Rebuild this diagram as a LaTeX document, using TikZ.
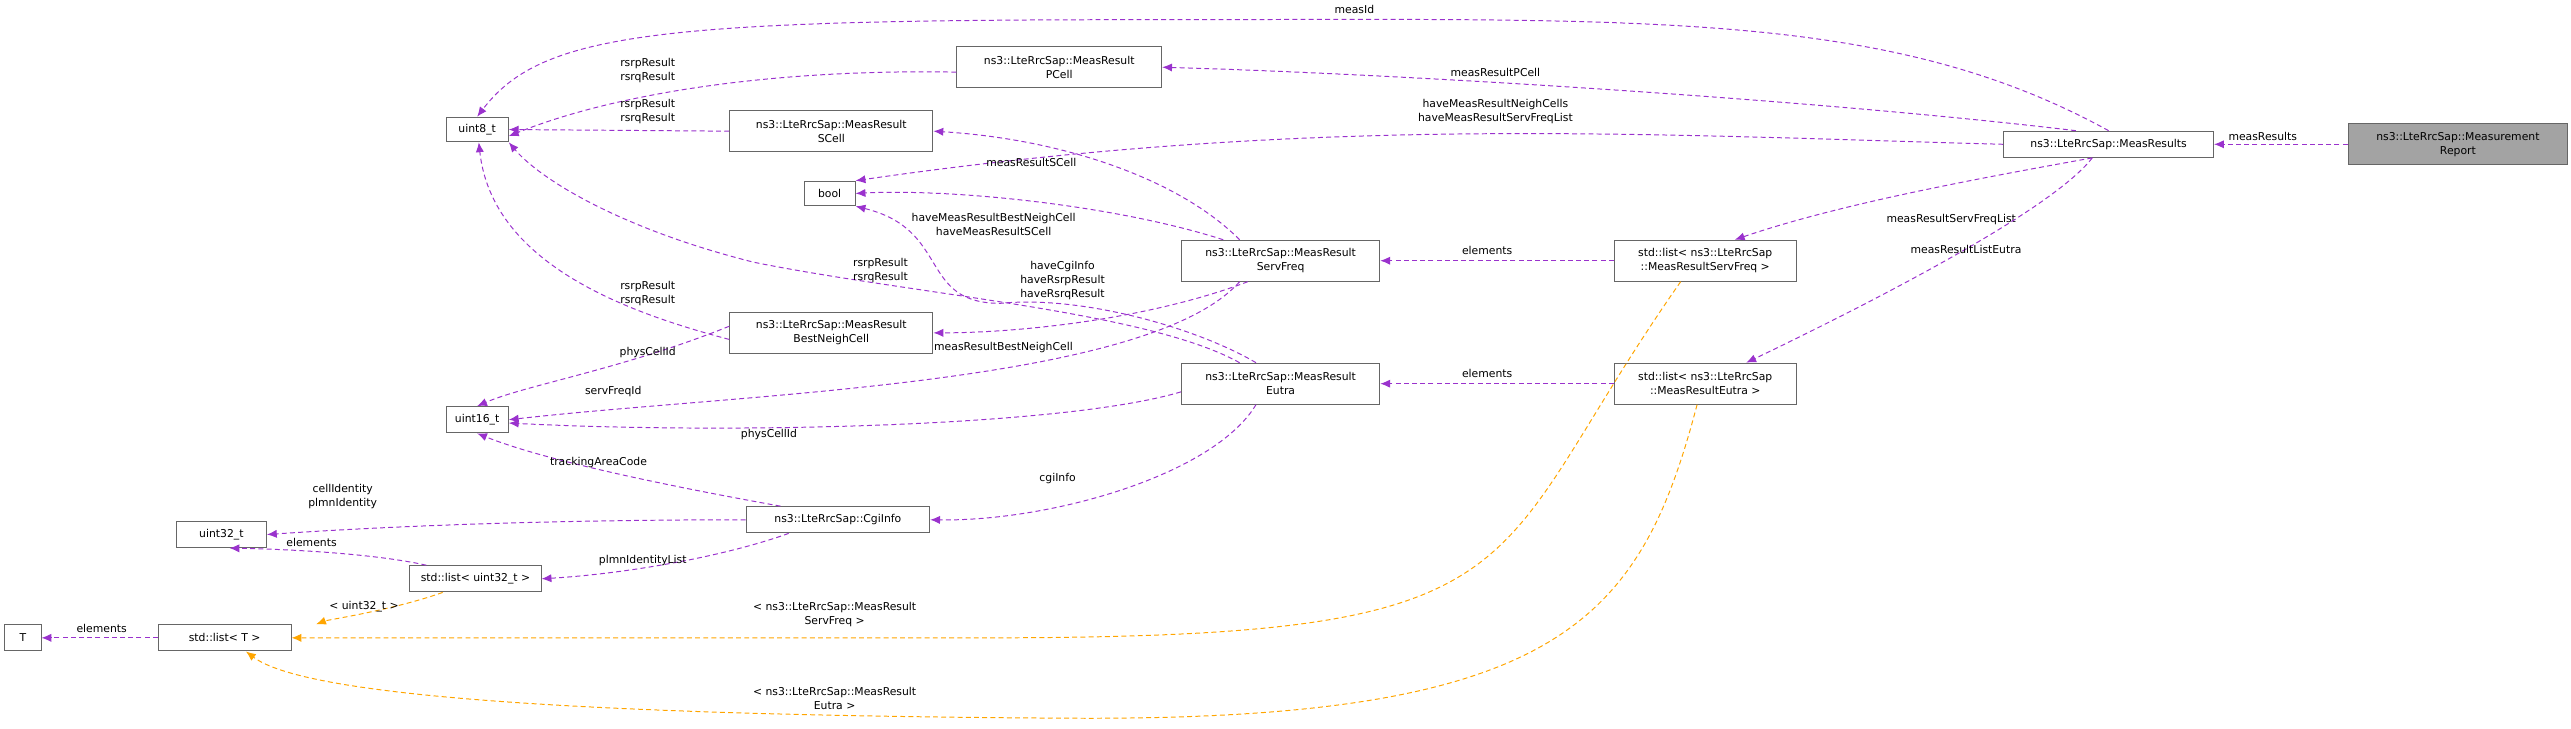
\documentclass[tikz,border=0pt]{standalone}
\usepackage{fontspec}
\setmainfont{DejaVu Sans}
\usetikzlibrary{arrows.meta,positioning}
\definecolor{usecol}{HTML}{9A32CD}
\definecolor{tplcol}{HTML}{FFA500}
\definecolor{boxcol}{HTML}{666666}

\begin{document}
\begin{tikzpicture}[x=1pt,y=-1pt,
    cls/.style={rectangle, draw=boxcol, line width=0.6pt, fill=white, inner sep=1.5pt, align=center, font=\fontsize{6.6}{8.5}\selectfont},
    rel/.style={draw=usecol, dashed, dash pattern=on 3pt off 2pt, line width=0.6pt, -{Latex[length=6pt,width=5pt]}},
    tpl/.style={rel, draw=tplcol},
    lbl/.style={align=center, font=\fontsize{6.6}{8.5}\selectfont, inner sep=0pt}
]
\useasboundingbox (0,0) rectangle (1568,444);

% classes
\node[cls, fill=boxcol!60, minimum width=134pt, minimum height=25pt] (report) at (1499,88) {ns3::LteRrcSap::Measurement\\Report};
\node[cls, minimum width=128pt, minimum height=16pt] (results) at (1286,88) {ns3::LteRrcSap::MeasResults};
\node[cls, minimum width=125pt, minimum height=25pt] (pcell) at (646,41) {ns3::LteRrcSap::MeasResult\\PCell};
\node[cls, minimum width=124pt, minimum height=25pt] (scell) at (507,80) {ns3::LteRrcSap::MeasResult\\SCell};
\node[cls, minimum width=38pt, minimum height=15pt] (u8) at (291,79) {uint8\_t};
\node[cls, minimum width=31pt, minimum height=15pt] (bool) at (506,118) {bool};
\node[cls, minimum width=124pt, minimum height=25pt] (best) at (507,203) {ns3::LteRrcSap::MeasResult\\BestNeighCell};
\node[cls, minimum width=121pt, minimum height=25pt] (servfreq) at (781,159) {ns3::LteRrcSap::MeasResult\\ServFreq};
\node[cls, minimum width=111pt, minimum height=25pt] (listsf) at (1040,159) {std::list< ns3::LteRrcSap\\::MeasResultServFreq >};
\node[cls, minimum width=38pt, minimum height=16pt] (u16) at (291,256) {uint16\_t};
\node[cls, minimum width=121pt, minimum height=25pt] (eutra) at (781,234) {ns3::LteRrcSap::MeasResult\\Eutra};
\node[cls, minimum width=111pt, minimum height=25pt] (listeu) at (1040,234) {std::list< ns3::LteRrcSap\\::MeasResultEutra >};
\node[cls, minimum width=112pt, minimum height=16pt] (cgi) at (511,317) {ns3::LteRrcSap::CgiInfo};
\node[cls, minimum width=55pt, minimum height=16pt] (u32) at (135,326) {uint32\_t};
\node[cls, minimum width=80pt, minimum height=16pt] (listu32) at (290,353) {std::list< uint32\_t >};
\node[cls, minimum width=22pt, minimum height=16pt] (tT) at (14,389) {T};
\node[cls, minimum width=81pt, minimum height=16pt] (listT) at (137,389) {std::list< T >};

% relations from MeasResults
\draw[rel] (report.west) -- (results.east);
\node[lbl] at (1380,83) {measResults};
\draw[rel] (results.north) .. controls (1150,5) and (1000,12) .. (700,12) .. controls (400,12) and (330,20) .. (u8.north);
\node[lbl] at (826,6) {measId};
\draw[rel] ([xshift=-20pt]results.north) .. controls (1100,60) and (850,45) .. (pcell.east);
\node[lbl] at (912,44) {measResultPCell};
\draw[rel] (results.west) .. controls (1000,82) and (800,70) .. (bool.north east);
\node[lbl] at (912,68) {haveMeasResultNeighCells\\haveMeasResultServFreqList};
\draw[rel] ([xshift=-10pt]results.south) .. controls (1200,110) and (1120,125) .. ([xshift=18pt]listsf.north);
\node[lbl] at (1190,134) {measResultServFreqList};
\draw[rel] ([xshift=-10pt]results.south) .. controls (1250,130) and (1130,190) .. ([xshift=25pt]listeu.north);
\node[lbl] at (1199,152) {measResultListEutra};

% elements of the lists
\draw[rel] (listsf.west) -- (servfreq.east);
\node[lbl] at (907,153) {elements};
\draw[rel] (listeu.west) -- (eutra.east);
\node[lbl] at (907,228) {elements};

% ServFreq members
\draw[rel] ([xshift=-25pt]servfreq.north) .. controls (720,110) and (650,85) .. (scell.east);
\node[lbl] at (629,99) {measResultSCell};
\draw[rel] ([xshift=-35pt]servfreq.north) .. controls (680,125) and (580,115) .. (bool.east);
\node[lbl] at (606,137) {haveMeasResultBestNeighCell\\haveMeasResultSCell};
\draw[rel] ([xshift=-20pt]servfreq.south) .. controls (700,195) and (620,203) .. (best.east);
\node[lbl] at (612,212) {measResultBestNeighCell};
\draw[rel] ([xshift=-25pt]servfreq.south) .. controls (700,235) and (450,240) .. (u16.east);
\node[lbl] at (374,239) {servFreqId};

% Eutra members
\draw[rel] ([xshift=-25pt]eutra.north) .. controls (700,190) and (560,180) .. (460,160) .. controls (380,140) and (330,110) .. (u8.south east);
\node[lbl] at (537,165) {rsrpResult\\rsrqResult};
\draw[rel] ([xshift=-15pt]eutra.north) .. controls (730,200) and (660,180) .. (610,185) .. controls (560,185) and (580,140) .. (bool.south east);
\node[lbl] at (648,171) {haveCgiInfo\\haveRsrpResult\\haveRsrqResult};
\draw[rel] ([yshift=-5pt]eutra.west) .. controls (650,260) and (450,265) .. ([yshift=-2pt]u16.east);
\node[lbl] at (469,265) {physCellId};
\draw[rel] ([xshift=-15pt]eutra.south) .. controls (740,290) and (640,318) .. (cgi.east);
\node[lbl] at (645,292) {cgiInfo};

% uint8_t users
\draw[rel] ([yshift=-3pt]pcell.west) .. controls (480,42) and (380,55) .. ([yshift=-4pt]u8.east);
\node[lbl] at (395,43) {rsrpResult\\rsrqResult};
\draw[rel] (scell.west) -- (u8.east);
\node[lbl] at (395,68) {rsrpResult\\rsrqResult};
\draw[rel] ([yshift=-4pt]best.west) .. controls (380,190) and (300,160) .. ([xshift=1pt]u8.south);
\node[lbl] at (395,179) {rsrpResult\\rsrqResult};
\draw[rel] ([yshift=4pt]best.west) .. controls (380,225) and (320,235) .. (u16.north);
\node[lbl] at (395,215) {physCellId};

% CgiInfo members
\draw[rel] ([xshift=-35pt]cgi.north) .. controls (400,295) and (330,280) .. (u16.south);
\node[lbl] at (365,282) {trackingAreaCode};
\draw[rel] (cgi.west) .. controls (350,317) and (250,320) .. (u32.east);
\node[lbl] at (209,303) {cellIdentity\\plmnIdentity};
\draw[rel] ([xshift=-30pt]cgi.south) .. controls (440,340) and (380,350) .. (listu32.east);
\node[lbl] at (392,342) {plmnIdentityList};

% list< uint32_t >
\draw[rel] ([xshift=-30pt]listu32.north) .. controls (230,338) and (180,335) .. ([xshift=5pt]u32.south);
\node[lbl] at (190,331) {elements};
\draw[tpl] ([xshift=-20pt]listu32.south) .. controls (240,372) and (200,378) .. ([xshift=15pt]listT.north east);
\node[lbl] at (222,370) {< uint32\_t >};

% template instances
\draw[tpl] ([xshift=-15pt]listsf.south) .. controls (900,350) and (950,389) .. (600,389) -- (listT.east);
\node[lbl] at (509,375) {< ns3::LteRrcSap::MeasResult\\ServFreq >};
\draw[tpl] ([xshift=-5pt]listeu.south) .. controls (1000,380) and (950,440) .. (650,438) .. controls (300,436) and (180,420) .. ([xshift=13pt]listT.south);
\node[lbl] at (509,426) {< ns3::LteRrcSap::MeasResult\\Eutra >};

\draw[rel] (listT.west) -- (tT.east);
\node[lbl] at (62,383) {elements};

\end{tikzpicture}
\end{document}
